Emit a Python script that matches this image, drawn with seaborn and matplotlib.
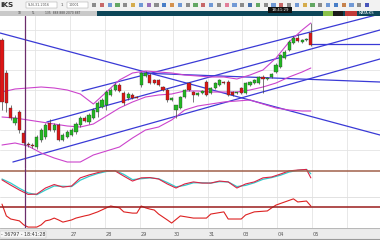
import matplotlib
matplotlib.use("Agg")
import matplotlib.pyplot as plt
import seaborn as sns
import pandas as pd
from matplotlib.patches import Rectangle

# ---------------- data ----------------
opens  = [130, 97, 62, 47, 58, 37, 26, 25, 23, 30, 33, 47, 40, 45, 30, 33, 35, 38, 45, 52,
          48, 52, 58, 63, 65, 75, 80, 85, 77, 72, 75, 73, 85, 94, 95, 90, 90, 83, 80, 70,
          60, 62, 73, 87, 78, 75, 77, 88, 77, 82, 85, 88, 88, 78, 77, 82, 77, 85, 87, 87,
          93, 91, 93, 98, 103, 112, 120, 127, 132, 128, 130, 137]
highs  = [132, 100, 65, 55, 60, 40, 28, 27, 35, 42, 47, 51, 47, 47, 37, 40, 42, 48, 54, 54,
          57, 62, 69, 72, 80, 82, 87, 87, 79, 78, 77, 74, 98, 99, 97, 91, 91, 84, 82, 73,
          65, 74, 81, 88, 79, 78, 80, 90, 83, 88, 91, 89, 90, 79, 78, 83, 88, 89, 91, 94,
          95, 93, 97, 107, 116, 120, 130, 134, 136, 131, 132, 147]
lows   = [60, 58, 50, 45, 37, 25, 23, 22, 21, 28, 31, 39, 38, 29, 29, 32, 34, 36, 43, 48,
          46, 51, 53, 62, 60, 74, 79, 78, 65, 70, 71, 72, 83, 93, 86, 86, 84, 79, 68, 69,
          52, 61, 72, 79, 68, 74, 76, 74, 76, 81, 84, 86, 74, 74, 76, 76, 76, 84, 86, 86,
          77, 90, 92, 97, 102, 111, 119, 126, 128, 127, 129, 124]
closes = [68, 67, 52, 52, 40, 27, 25, 24.5, 33, 40, 45, 40, 45, 30, 35, 38, 40, 46, 52, 49,
          55, 60, 67, 70, 78, 80, 85, 79, 67, 76, 72, 72.5, 97, 97, 87, 87, 85, 80, 70, 72,
          65, 73, 80, 80, 75, 77, 79, 75, 82, 87, 90, 87, 75, 75, 77.5, 77, 87, 88, 90, 93,
          91, 92, 96, 105, 115, 118, 128, 132, 129, 130, 131, 125]

band_idx = [0, 3, 6, 9, 12, 15, 18, 21, 24, 27, 30, 33, 36, 39, 42, 45, 48, 51, 54, 57,
            60, 63, 66, 69, 71]
band_upper  = [78, 81, 82, 83, 82, 80, 76, 66, 78, 90, 97, 99, 98, 97, 95, 94, 93, 93, 91, 95,
               100, 112, 128, 140, 147]
band_middle = [53, 52, 50, 48, 46, 44, 43, 46, 54, 62, 68, 73, 75, 76, 79, 79, 78, 78, 78, 80,
               83, 87, 93, 98, 102]
band_lower  = [25, 27, 24, 17, 12, 8, 8, 15, 19, 23, 32, 40, 43, 50, 60, 64, 66, 68, 69, 70,
               66, 62, 60, 59, 59]

# trend lines: (start index, start price, end index, end price)
line_a = (18.4, 79, 86.9, 156)
line_b = (10.3, 48, 86.9, 140)
line_c = (2.5, 8, 86.9, 111)
line_d = (-0.46, 137, 86.9, 35)
line_e = (31.7, 97, 86.9, 88)
line_f = (71, 126, 86.9, 126)

stoch_idx = [0, 2, 4, 6, 8, 10, 12, 14, 16, 18, 20, 22, 24, 26, 28, 30, 32, 34, 36, 38,
             40, 42, 44, 46, 48, 50, 52, 54, 56, 58, 60, 62, 64, 66, 68, 70, 71]
stoch_k = [59, 41, 24, 9, 10, 31, 43, 34, 38, 66, 76, 84, 91, 90, 72, 55, 66, 67, 62, 45,
           31, 45, 52, 48, 48, 55, 52, 31, 45, 52, 66, 69, 79, 90, 93, 95, 66]
stoch_d = [62, 48, 30, 14, 8, 24, 38, 37, 36, 58, 71, 81, 88, 91, 78, 60, 63, 66, 63, 50,
           35, 40, 49, 49, 48, 53, 52, 36, 40, 49, 61, 67, 75, 86, 92, 95, 80]
stoch_level = 90

rsi_idx = [0, 1, 2, 3, 4, 5, 6, 8, 9, 10, 11, 12, 13, 14, 16, 17, 19, 20, 22, 24,
           25, 27, 28, 30, 31, 32, 33, 34, 35, 36, 38, 39, 41, 44, 47, 48, 51, 52, 55, 56,
           58, 61, 62, 63, 65, 67, 68, 70, 71]
rsi_vals = [77, 39, 29, 26, 23, 10, 3, 3, 10, 23, 26, 32, 26, 19, 26, 32, 39, 42, 52, 65,
            71, 65, 52, 48, 48, 71, 65, 61, 58, 45, 26, 16, 39, 32, 32, 45, 52, 29, 29, 42,
            52, 55, 65, 74, 84, 94, 84, 87, 71]
rsi_level = 68

day_ticks = [7.6, 15.6, 23.7, 31.7, 39.3, 47.4, 55.2, 63.2, 71.3, 79.3]
day_labels = ["", "27", "28", "29", "30", "31", "03", "04", "05", ""]
price_grid = [20, 40, 60, 80, 100, 120, 140]
crosshair_idx = 5.3

# ---------------- styling ----------------
sns.set_theme(style="white")
plt.rcParams['font.family'] = ['DejaVu Sans']

W, H = 380, 240
fig = plt.figure(figsize=(3.8, 2.4), dpi=100)
fig.patch.set_facecolor("white")

def px_axes(top, bottom):
    return fig.add_axes([0, 1 - bottom / H, 1, (bottom - top) / H])

XL = (-0.46, 86.9)
ax = px_axes(16, 168)
ax_st = px_axes(168, 197)
ax_rsi = px_axes(197, 228)
ax_bot = px_axes(228, 240)
ax_top = px_axes(0, 16)

grid_c = "#e4e4e4"
blue = "#3a3ad6"

# main panel
for t in day_ticks:
    for a in (ax, ax_st, ax_rsi):
        a.axvline(t, color=grid_c, lw=0.6, zorder=0)
for p in price_grid:
    ax.axhline(p, color=grid_c, lw=0.6, zorder=0)

for ln in (line_a, line_b, line_c, line_d, line_e, line_f):
    ax.plot([ln[0], ln[2]], [ln[1], ln[3]], color=blue, lw=0.9, zorder=2)

bands = pd.DataFrame({"i": band_idx, "upper": band_upper, "middle": band_middle,
                      "lower": band_lower})
for col in ("upper", "middle", "lower"):
    sns.lineplot(data=bands, x="i", y=col, ax=ax, color="#cc44cc", lw=0.8, zorder=3)

for i, (o, h, l, c) in enumerate(zip(opens, highs, lows, closes)):
    col = "#22b822" if c >= o else "#dd1515"
    ax.vlines(i, l, h, color="#444444", lw=0.5, zorder=4)
    lo, hi = min(o, c), max(o, c)
    ax.add_patch(Rectangle((i - 0.36, lo), 0.72, max(hi - lo, 0.9),
                           facecolor=col, edgecolor="#333333", lw=0.25, zorder=5))
ax.axvline(crosshair_idx, color="#6b2d6b", lw=0.9, zorder=6)

# stochastic panel
st = pd.DataFrame({"i": stoch_idx, "k": stoch_k, "d": stoch_d})
sns.lineplot(data=st, x="i", y="d", ax=ax_st, color="#33cccc", lw=0.9)
sns.lineplot(data=st, x="i", y="k", ax=ax_st, color="#dd2244", lw=0.8)
ax_st.axhline(stoch_level, color="#a0604a", lw=1.1)
ax_st.axhline(0.5, color="#dddddd", lw=0.6)
ax_st.axvline(crosshair_idx, color="#6b2d6b", lw=0.9)

# rsi panel
rs = pd.DataFrame({"i": rsi_idx, "v": rsi_vals})
sns.lineplot(data=rs, x="i", y="v", ax=ax_rsi, color="#dd2222", lw=0.8)
ax_rsi.axhline(rsi_level, color="#9a1c1c", lw=1.1)
ax_rsi.axhline(99, color="#dddddd", lw=0.6)
ax_rsi.axvline(crosshair_idx, color="#6b2d6b", lw=0.9)

for a in (ax, ax_st, ax_rsi, ax_bot):
    a.set_xticks([]); a.set_yticks([])
    a.set_xlabel(""); a.set_ylabel("")
    for s in a.spines.values():
        s.set_visible(False)
    a.set_facecolor("white")
    a.set_xlim(*XL)
ax.set_ylim(2, 154)
ax_st.set_ylim(0, 100)
ax_rsi.set_ylim(0, 100)

# bottom time strip
ax_bot.set_facecolor("#ececec")
ax_bot.set_ylim(0, 1)
ax_bot.axhline(0.98, color="#b8b8b8", lw=0.8)
ax_bot.axhline(0.05, color="#9a9a9a", lw=0.8)
for t, lab in zip(day_ticks, day_labels):
    if lab:
        ax_bot.text(t + 0.2, 0.45, lab, fontsize=3.6, color="#555555", va="center", ha="left")
ax_bot.text(-0.2, 0.45, "- 36797 - 18:41:28", fontsize=3.4, color="#333333",
            va="center", ha="left",
            bbox=dict(boxstyle="square,pad=0.15", fc="#f6f6f6", ec="#bbbbbb", lw=0.3))

# top toolbar
ax_top.set_xlim(0, W); ax_top.set_ylim(16, 0)
ax_top.axis("off")
ax_top.add_patch(Rectangle((0, 0), W, 10.5, facecolor="#f2f2f2", edgecolor="none"))
ax_top.add_patch(Rectangle((0, 10.5), W, 5.5, facecolor="#0d4658", edgecolor="none"))
ax_top.add_patch(Rectangle((0, 10.5), 97, 5.5, facecolor="#c9c9c9", edgecolor="none"))
ax_top.text(0.5, 5, "iKS", fontsize=5.2, fontweight="bold", color="#333333", va="center")
ax_top.add_patch(Rectangle((26, 1.8), 31, 6, facecolor="white", edgecolor="#999999", lw=0.3))
ax_top.text(27.5, 5, "SLN-31-2016", fontsize=2.4, color="#555555", va="center")
ax_top.add_patch(Rectangle((67, 1.8), 21, 6, facecolor="white", edgecolor="#999999", lw=0.3))
ax_top.text(69, 5, "10001", fontsize=2.4, color="#555555", va="center")
ax_top.text(61, 5, "1", fontsize=3, color="#555555", va="center")
for xx, lab in ((18, "18"), (31, "TL"), (45, "135  888 888 2070 887")):
    ax_top.text(xx, 13.3, lab, fontsize=2.2, color="#444444", va="center")
icon_colors = ["#7a7a7a", "#c05050", "#5a8ad0", "#4a9a4a", "#7a7a7a", "#d0a030", "#5a8ad0",
               "#8a5ab0", "#7a7a7a", "#2a6ac0", "#d08030", "#5a8ad0", "#7a7a7a", "#4a9a4a",
               "#c05050", "#5a8ad0", "#7a7a7a", "#e06a8a", "#5a8ad0", "#7a7a7a", "#2a5aa0",
               "#4a9a4a", "#7a7a7a", "#5a8ad0", "#c05050", "#7a7a7a", "#5a8ad0", "#d0a030",
               "#4a9a4a", "#7a7a7a", "#5a8ad0", "#2a6ac0", "#c07030", "#5a8ad0", "#7a7a7a",
               "#2a3ab0"]
for k, cc in enumerate(icon_colors):
    x0 = 92 + k * 7.8
    ax_top.add_patch(Rectangle((x0, 2.5), 4.2, 4.6, facecolor=cc, edgecolor="none", alpha=0.85))
ax_top.add_patch(Rectangle((268, 7), 24, 5.5, facecolor="#111111", edgecolor="none"))
ax_top.text(280, 9.8, "18:41:29", fontsize=2.8, color="white", ha="center", va="center")
ax_top.add_patch(Rectangle((323, 11), 10, 4.5, facecolor="#8ac24a", edgecolor="none"))
ax_top.add_patch(Rectangle((333, 11), 10, 4.5, facecolor="#1a1a1a", edgecolor="none"))
ax_top.add_patch(Rectangle((345, 11), 12, 4.5, facecolor="#c23a3a", edgecolor="none"))
ax_top.text(359, 13.3, "MATA:KS", fontsize=2.6, color="white", va="center")

fig.savefig("out.png", dpi=100)
